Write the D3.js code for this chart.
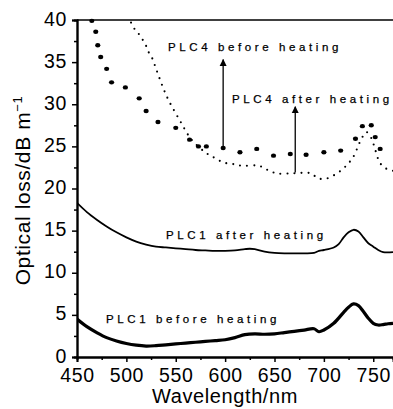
<!DOCTYPE html>
<html>
<head>
<meta charset="utf-8">
<script src="https://cdn.jsdelivr.net/npm/d3@7"></script>
<style>
  body { margin: 0; background: #fff; }
  svg { font-family: "Liberation Sans", Arial, sans-serif; }
  .lbl { font-size: 11.5px; letter-spacing: 3.6px; fill: #000; stroke: #000; stroke-width: 0.25px; }
</style>
</head>
<body>
<div id="chart"></div>
<script>
// wavelength (nm) / optical loss (dB m-1)
var plc1BeforeNm = [450,460,470,480,490,500,510,520,530,540,550,560,570,580,590,600,610,620,630,640,650,660,670,680,690,695,700,710,720,725,730,735,740,745,750,755,760,765,770];
var plc1BeforeDb = [4.5,3.6,2.9,2.3,1.9,1.6,1.4,1.3,1.35,1.45,1.55,1.65,1.75,1.85,1.95,2.05,2.3,2.65,2.75,2.7,2.75,2.9,3.05,3.2,3.35,3.0,3.2,4.0,5.3,5.9,6.3,6.1,5.4,4.6,4.0,3.8,3.85,3.95,4.0];

var plc1AfterNm = [450,460,470,480,490,500,510,520,530,540,550,560,570,580,590,600,610,620,625,630,640,650,660,670,680,690,695,700,710,715,720,725,730,735,740,745,750,755,760,770];
var plc1AfterDb = [18.3,17.2,16.3,15.5,14.8,14.2,13.7,13.35,13.1,13.0,12.9,12.8,12.7,12.65,12.6,12.6,12.65,12.8,12.85,12.8,12.5,12.35,12.3,12.3,12.3,12.35,12.6,12.7,13.0,13.4,14.2,14.8,15.1,14.9,14.2,13.5,13.1,12.7,12.45,12.45];

// PLC4 after heating: individual big dots
var plc4AfterNm = [465,469,471,474,480,485,499,513,520,532,550,564,573,581,598,615,632,649,666,682,700,717,732,739,748,752,757];
var plc4AfterDb = [39.9,38.6,37.0,35.6,34.2,32.6,32.0,30.7,29.2,27.9,27.2,25.8,25.0,25.0,24.8,24.3,24.7,23.9,24.1,24.0,24.3,24.5,25.9,27.4,27.5,26.1,24.7];

// PLC4 before heating: fine dotted curve
var plc4BeforeNm = [503,506,511,515,519,522,526,531,541,554,566,581,590,598,608,617,634,643,652,669,687,694,703,712,719,725,730,736,739,743,748,752,757,764,770];
var plc4BeforeDb = [40.5,39.3,38.6,37.9,37.2,36.3,35.5,33.9,30.9,28.1,25.8,24.2,23.6,23.1,22.9,22.7,22.7,22.2,21.8,21.8,21.8,21.2,21.2,21.7,22.3,23.0,23.8,25.4,26.1,26.7,26.0,24.6,23.0,22.3,22.1];

// arrows: [nm, from, to]
var arrowNm = [598, 671];
var arrowFrom = [24.8, 21.9];
var arrowTo = [35.3, 29.7];

var xTicks = [450,500,550,600,650,700,750];
var yTicks = [0,5,10,15,20,25,30,35,40];

var W = 393, H = 409;
var margin = {top: 20, right: 0, bottom: 52, left: 77},
    width = W - margin.left - margin.right,
    height = H - margin.top - margin.bottom;

var x = d3.scaleLinear().domain([450, 770]).range([0, width]);
var y = d3.scaleLinear().domain([0, 40]).range([height, 0]);

var svg = d3.select("#chart").append("svg")
    .attr("width", W).attr("height", H)
    .append("g")
    .attr("transform", "translate(" + margin.left + "," + margin.top + ")");

svg.append("defs").append("clipPath").attr("id", "clip")
    .append("rect").attr("x", 0).attr("y", -2).attr("width", width).attr("height", height + 2);

function zip(a, b) { return a.map(function (v, i) { return [v, b[i]]; }); }

var line = d3.line()
    .x(function (d) { return x(d[0]); })
    .y(function (d) { return y(d[1]); })
    .curve(d3.curveCatmullRom);

var plot = svg.append("g").attr("clip-path", "url(#clip)");

plot.append("path").datum(zip(plc1BeforeNm, plc1BeforeDb))
    .attr("d", line).attr("fill", "none").attr("stroke", "#000").attr("stroke-width", 3.2);

plot.append("path").datum(zip(plc1AfterNm, plc1AfterDb))
    .attr("d", line).attr("fill", "none").attr("stroke", "#000").attr("stroke-width", 1.8);

plot.append("path").datum(zip(plc4BeforeNm, plc4BeforeDb))
    .attr("d", line).attr("fill", "none").attr("stroke", "#000").attr("stroke-width", 2.1)
    .attr("stroke-linecap", "round").attr("stroke-dasharray", "0,7");

plot.selectAll(".bigdot").data(zip(plc4AfterNm, plc4AfterDb))
    .enter().append("ellipse").attr("class", "bigdot")
    .attr("cx", function (d) { return x(d[0]); })
    .attr("cy", function (d) { return y(d[1]); })
    .attr("rx", 2.6).attr("ry", 2.2)
    .attr("fill", "#000");

// frame top line
svg.append("line").attr("x1", 0).attr("x2", width).attr("y1", 0).attr("y2", 0)
    .attr("stroke", "#000").attr("stroke-width", 1.7);

// axes
var xAxis = d3.axisBottom(x).tickValues(xTicks).tickSize(5).tickPadding(6);
var xMinor = d3.axisBottom(x).tickValues(d3.range(475, 770, 50)).tickSize(3).tickFormat("");
var yAxis = d3.axisLeft(y).tickValues(yTicks).tickSize(5).tickPadding(5);
var yMinor = d3.axisLeft(y).tickValues(d3.range(2.5, 40, 5)).tickSize(3).tickFormat("");

function styleAxis(g) {
    g.select(".domain").attr("stroke", "#000").attr("stroke-width", 1.9);
    g.selectAll(".tick line").attr("stroke", "#000").attr("stroke-width", 1.5);
    g.selectAll(".tick text").attr("fill", "#000").style("font-size", "19.5px")
        .style("letter-spacing", "0.6px");
}

svg.append("g").attr("transform", "translate(0," + height + ")").call(xMinor).call(styleAxis);
svg.append("g").attr("transform", "translate(0," + height + ")").call(xAxis).call(styleAxis);
svg.append("g").call(yMinor).call(styleAxis);
svg.append("g").call(yAxis).call(styleAxis)
    .selectAll(".tick text").attr("dy", "0.26em");

// axis titles
svg.append("text")
    .attr("x", 148).attr("y", height + 46)
    .attr("text-anchor", "middle")
    .style("font-size", "20px").style("letter-spacing", "0.6px").attr("fill", "#000")
    .text("Wavelength/nm");

var yt = svg.append("text")
    .attr("transform", "translate(-47," + (height / 2 + 2) + ") rotate(-90)")
    .attr("text-anchor", "middle")
    .style("font-size", "21px").style("letter-spacing", "0.6px").attr("fill", "#000");
yt.append("tspan").text("Optical loss/dB m");
yt.append("tspan").attr("dy", -8).style("font-size", "13px").text("\u22121");

// arrows
svg.append("defs").append("marker")
    .attr("id", "head").attr("viewBox", "0 0 10 10")
    .attr("refX", 9).attr("refY", 5)
    .attr("markerWidth", 7).attr("markerHeight", 9)
    .attr("markerUnits", "userSpaceOnUse")
    .attr("orient", "auto")
    .append("path").attr("d", "M0,0L10,5L0,10Z").attr("fill", "#000");

svg.selectAll(".arrow").data(arrowNm).enter().append("line")
    .attr("class", "arrow")
    .attr("x1", function (d) { return x(d); })
    .attr("x2", function (d) { return x(d); })
    .attr("y1", function (d, i) { return y(arrowFrom[i]); })
    .attr("y2", function (d, i) { return y(arrowTo[i]); })
    .attr("stroke", "#000").attr("stroke-width", 1.3)
    .attr("marker-end", "url(#head)");

// curve labels
var labels = [
    {t: "PLC4 before heating", x: 91, y: 31},
    {t: "PLC4 after heating", x: 155, y: 83},
    {t: "PLC1 after heating", x: 89, y: 219},
    {t: "PLC1 before heating", x: 29, y: 303}
];
svg.selectAll(".lbl").data(labels).enter().append("text")
    .attr("class", "lbl")
    .attr("x", function (d) { return d.x; })
    .attr("y", function (d) { return d.y; })
    .text(function (d) { return d.t; });
</script>
</body>
</html>
